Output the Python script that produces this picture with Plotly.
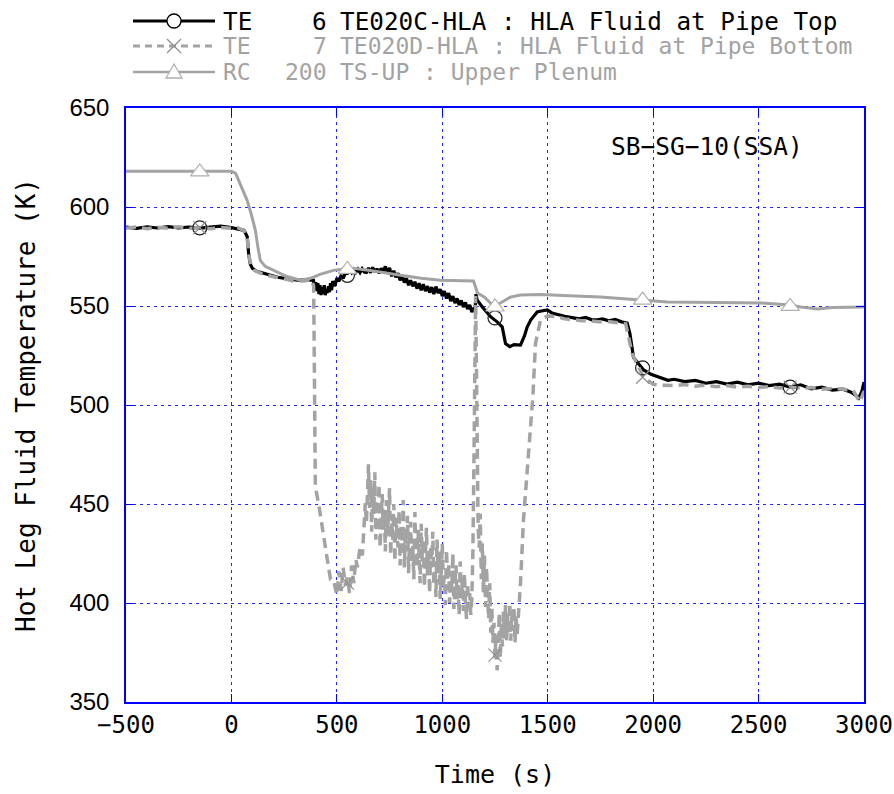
import plotly.graph_objects as go

# ---------------- data ----------------
t_te6 = [-500,-450,-400,-350,-300,-250,-200,-150,-100,-50,0,30,60,75,82,90,100,120,150,185,220,260,313,350,389,
         395,400,405,410,415,420,425,430,435,440,445,450,455,460,465,470,475,480,490,500,510,520,530,540,
         550,560,570,580,590,600,610,620,630,
         640,650,660,670,680,690,700,710,720,730,740,750,760,770,780,790,800,810,820,830,840,850,860,870,880,890,
         900,910,920,930,940,950,960,970,980,990,1000,1010,1020,1030,1040,1050,1060,1070,1080,1090,1100,1110,1120,
         1130,1140,1150,1155,1160,1165,1190,
         1229,1260,1284,1300,1320,1340,1371,1390,1403,1420,1450,1470,1498,1520,1550,1580,1622,1650,1680,1710,
         1736,1760,1790,1820,1850,1877,1890,1907,1930,1955,1990,2035,2070,2100,2150,2200,2250,2300,2350,2400,
         2450,2500,2550,2600,2650,2700,2750,2800,2850,2900,2936,2960,2975,2990,3000]
T_te6 = [589.8,589.2,590.0,589.4,590.1,589.5,589.9,589.3,589.8,590.3,589.6,589.0,588.2,585.0,576.0,571.0,569.0,567.5,566.5,565.6,564.5,563.8,563.0,563.2,563.0,
         559.0,562.0,557.5,561.5,556.0,560.5,555.5,559.5,556.0,560.5,555.5,558.5,556.5,560.0,557.0,561.5,558.0,562.5,560.0,564.0,562.5,565.5,564.0,566.5,
         566.5,568.0,566.8,568.5,567.0,568.6,566.9,568.8,567.2,
         567.0,569.2,566.8,569.5,567.2,568.8,566.5,569.0,567.5,570.0,566.8,569.3,565.0,567.8,564.5,566.5,563.0,565.2,561.8,564.0,560.5,563.0,560.0,562.2,558.8,561.5,
         558.0,561.0,557.5,560.0,556.8,559.5,556.0,559.8,556.5,558.5,555.0,557.5,553.8,556.5,552.5,555.0,551.5,553.8,550.5,552.8,549.5,551.8,548.5,
         550.5,547.0,549.0,547.5,556.0,553.0,549.5,
         544.6,542.0,539.5,531.0,529.5,530.5,530.3,535.0,539.5,543.0,547.0,547.5,548.0,546.5,545.5,544.8,544.0,543.5,544.2,543.0,
         543.0,543.5,542.5,543.2,542.0,541.4,536.0,524.0,521.0,517.7,515.5,513.6,512.5,513.0,511.8,512.4,511.0,511.8,510.6,511.5,
         510.2,511.0,509.8,510.5,509.0,510.2,508.2,509.0,507.5,508.0,506.6,505.0,503.5,507.0,511.6]

t_te7 = [-500,-450,-400,-350,-300,-250,-200,-150,-100,-50,0,30,60,75,85,95,110,150,200,250,300,350,380,390,392,395,398,
         413,431,445,455,470,484,500,510,520,530,540,550,560,570,580,590,597,610,621,630,635,
         640,645,650,655,660,665,670,675,680,685,
         690,695,700,705,710,715,720,725,730,735,
         740,745,750,755,760,765,770,775,780,785,
         790,795,800,805,810,815,820,825,830,835,
         840,845,850,855,860,865,870,875,880,885,
         890,895,900,905,910,915,920,925,930,935,
         940,945,950,955,960,965,970,975,980,985,
         990,995,1000,1005,1010,1015,1020,1025,1030,1035,
         1040,1045,1050,1055,1060,1065,1070,1075,1080,1085,
         1090,1095,1100,1105,1110,1115,1120,1125,1130,1135,
         1140,1145,1150,1155,1158,1162,
         1166,1170,1175,1180,1185,1190,1195,1200,1205,1210,1215,1220,1225,1230,1235,1240,1245,1250,1255,1260,
         1265,1270,1275,1280,1285,1290,1295,1300,1305,1310,1315,1320,1325,1330,1335,1340,1345,1350,1355,1360,
         1365,1371,1385,1405,1418,1430,1442,
         1466,1500,1546,1580,1620,1660,1700,1740,1780,1820,1870,1880,1900,1920,1950,1980,2000,2035,2100,2150,2200,2250,
         2300,2350,2400,2450,2500,2550,2600,2650,2700,2750,2800,2850,2900,2950,2980,3000]
T_te7 = [589.3,589.9,589.0,589.8,589.2,590.0,589.1,589.7,589.0,589.6,589.2,589.5,588.0,584.0,574.0,570.0,568.0,566.0,564.8,563.5,562.5,562.8,563.5,560.0,520.0,485.0,458.6,
         450.5,437.0,428.0,421.7,412.0,411.6,404.0,416.0,406.0,418.0,409.0,413.0,405.0,419.0,410.0,422.0,418.0,428.0,424.0,440.0,450.5,
         440.0,455.0,470.0,448.0,462.0,436.0,458.0,445.0,466.0,432.0,
         452.0,440.0,460.0,428.0,449.0,455.0,437.0,447.0,426.0,452.0,
         434.0,446.0,458.0,424.0,441.0,432.0,450.0,421.0,443.0,436.0,
         428.0,447.0,419.0,439.0,431.0,452.0,418.0,437.0,426.0,444.0,
         415.0,433.0,441.0,420.0,429.0,412.0,446.0,424.0,418.0,437.0,
         427.0,410.0,440.0,421.0,432.0,408.0,425.0,438.0,414.0,423.0,
         405.0,429.0,418.0,436.0,409.0,421.0,403.0,432.0,415.0,426.0,
         402.0,419.0,430.0,408.0,414.0,399.0,427.0,411.0,420.0,400.0,
         416.0,406.0,425.0,397.0,412.0,419.0,402.0,409.0,394.0,421.0,
         403.0,411.0,396.0,415.0,400.0,392.0,410.0,398.0,405.0,394.0,
         402.0,425.0,470.0,520.0,555.0,520.0,
         452.0,438.0,428.0,445.0,412.0,430.0,405.0,424.0,398.0,418.0,402.0,392.0,410.0,385.0,398.0,380.0,390.0,372.0,384.0,366.0,
         378.0,395.0,372.0,390.0,378.0,396.0,382.0,399.0,380.0,394.0,384.0,400.0,381.0,396.0,386.0,398.0,380.0,394.0,384.0,392.0,
         400.0,410.0,442.0,470.0,487.0,505.0,531.0,
         543.0,545.0,544.5,543.5,543.0,542.6,542.5,542.0,542.2,541.8,541.0,536.0,526.0,521.5,515.0,512.0,510.5,510.0,509.8,510.3,509.5,510.0,
         509.2,509.8,509.0,509.5,508.8,509.3,508.6,509.0,508.5,508.8,508.0,508.3,508.0,507.0,501.5,507.0]

t_rc200 = [-500,0,20,50,74,95,114,125,137,160,200,260,327,375,420,484,550,580,650,740,802,900,991,1148,1167,1200,1243,
           1276,1300,1323,1371,1466,1600,1750,1940,2068,2300,2510,2650,2700,2780,2850,3000]
T_rc200 = [618.0,618.0,617.0,610.0,603.5,596.0,588.0,580.0,573.0,570.0,568.0,565.0,563.0,564.0,566.0,568.0,569.0,569.0,568.0,566.7,565.5,564.0,563.0,562.6,556.6,554.5,550.0,
           551.5,553.0,554.5,555.6,555.8,555.2,554.5,553.0,552.0,551.8,551.5,550.5,549.5,548.5,549.2,549.5]

# marker positions (sampled symbols on each curve)
t_mark = [-150, 550, 1250, 1950, 2650]
T_mark_te6 = [589.5, 565.5, 544.0, 518.7, 509.0]
T_mark_te7 = [589.5, 410.0, 373.7, 514.0, 509.0]
T_mark_rc200 = [617.7, 568.5, 549.5, 553.0, 549.8]

x_ticks = [-500, 0, 500, 1000, 1500, 2000, 2500, 3000]
y_ticks = [350, 400, 450, 500, 550, 600, 650]

legend_kind = ["TE", "TE", "RC"]
legend_num = ["6", "7", "200"]
legend_desc = ["TE020C-HLA : HLA Fluid at Pipe Top",
               "TE020D-HLA : HLA Fluid at Pipe Bottom",
               "TS-UP : Upper Plenum"]

# ---------------- styling ----------------
BLACK = "#000000"
GRAY = "#a3a3a3"
BLUE = "#0000ff"
GRID = "#2424ff"
MONO = "DejaVu Sans Mono"

W, H = 894, 794
L, R, T, B = 126, 864, 108, 702

fig = go.Figure()

fig.add_trace(go.Scatter(x=t_te6, y=T_te6, mode="lines",
                         line=dict(color=BLACK, width=3.2), showlegend=False))
fig.add_trace(go.Scatter(x=t_te7, y=T_te7, mode="lines",
                         line=dict(color=GRAY, width=3.5, dash="10px,6px"), showlegend=False))
fig.add_trace(go.Scatter(x=t_rc200, y=T_rc200, mode="lines",
                         line=dict(color=GRAY, width=3), showlegend=False))

fig.add_trace(go.Scatter(x=t_mark, y=T_mark_te6, mode="markers",
                         marker=dict(symbol="circle-open", size=14, color="#202020", line=dict(width=1.2)),
                         showlegend=False))
fig.add_trace(go.Scatter(x=t_mark, y=T_mark_te7, mode="markers",
                         marker=dict(symbol="x-thin-open", size=13, color="#909090", line=dict(width=1.2, color="#909090")),
                         showlegend=False))
fig.add_trace(go.Scatter(x=t_mark, y=T_mark_rc200, mode="markers",
                         marker=dict(symbol="triangle-up", size=16, color="white", line=dict(width=1.2, color="#b0b0b0")),
                         showlegend=False))

axis_common = dict(
    showline=True, linecolor=BLUE, linewidth=1.5, mirror="ticks",
    ticks="inside", ticklen=8, tickcolor=BLUE, tickwidth=1,
    showgrid=True, gridcolor=GRID, gridwidth=1.2, griddash="3px,4px",
    zeroline=False, automargin=False,
)

fig.update_xaxes(range=[-500, 3000], tickvals=x_ticks, ticktext=[str(v).replace("-", "\u2212") for v in x_ticks],
                 tickfont=dict(family=MONO, size=24, color="black"),
                 title=dict(text="Time (s)", font=dict(family=MONO, size=25, color="black"), standoff=28),
                 **axis_common)
fig.update_yaxes(range=[350, 650], tickvals=y_ticks,
                 tickfont=dict(family="Liberation Sans, Arial", size=24, color="black"),
                 ticklabelstandoff=10,
                 title=dict(text="Hot Leg Fluid Temperature (K)", font=dict(family=MONO, size=26, color="black"), standoff=26),
                 **axis_common)

def px(xp):
    return (xp - L) / (R - L)

def py(yp):
    return (B - yp) / (B - T)

shapes = []
annotations = []
row_y = [21, 46, 72]
row_size = [24.3, 23, 23]
for i in range(3):
    yy = py(row_y[i])
    color = BLACK if i == 0 else GRAY
    dash = "solid" if i != 1 else "7px,5px"
    lw = 3 if i == 0 else (3 if i == 1 else 2.5)
    shapes.append(dict(type="line", xref="paper", yref="paper", x0=px(133), x1=px(215), y0=yy, y1=yy,
                       line=dict(color=color, width=lw, dash=dash), layer="above"))
    cx, cy = 174, row_y[i]
    if i == 0:
        shapes.append(dict(type="circle", xref="paper", yref="paper", x0=px(cx - 7), x1=px(cx + 7),
                           y0=py(cy + 7), y1=py(cy - 7), line=dict(color="black", width=1.3),
                           fillcolor="white", layer="above"))
    elif i == 1:
        for dx in (-1, 1):
            shapes.append(dict(type="line", xref="paper", yref="paper", x0=px(cx - 7 * dx), x1=px(cx + 7 * dx),
                               y0=py(cy - 7), y1=py(cy + 7), line=dict(color="#909090", width=1.3), layer="above"))
    else:
        path = "M {} {} L {} {} L {} {} Z".format(px(cx - 8), py(cy + 6), px(cx + 8), py(cy + 6), px(cx), py(cy - 8))
        shapes.append(dict(type="path", xref="paper", yref="paper", path=path,
                           line=dict(color="#b0b0b0", width=1.3), fillcolor="white", layer="above"))
    f = dict(family=MONO, size=row_size[i], color=color)
    annotations.append(dict(xref="paper", yref="paper", x=px(221), y=yy, xanchor="left", yanchor="middle",
                            text=legend_kind[i], showarrow=False, font=f))
    annotations.append(dict(xref="paper", yref="paper", x=px(329), y=yy, xanchor="right", yanchor="middle",
                            text=legend_num[i], showarrow=False, font=f))
    annotations.append(dict(xref="paper", yref="paper", x=px(338), y=yy, xanchor="left", yanchor="middle",
                            text=legend_desc[i].replace(" ", "\u00a0"), showarrow=False, font=f))

annotations.append(dict(xref="paper", yref="paper", x=px(707), y=py(146), xanchor="center", yanchor="middle",
                        text="SB\u2212SG\u221210(SSA)", showarrow=False,
                        font=dict(family=MONO, size=24.5, color="black")))

fig.update_layout(
    width=W, height=H,
    margin=dict(l=L, r=W - R, t=T, b=H - B, autoexpand=False),
    paper_bgcolor="white", plot_bgcolor="white",
    shapes=shapes, annotations=annotations,
    showlegend=False,
)

fig.write_html("out.html")
